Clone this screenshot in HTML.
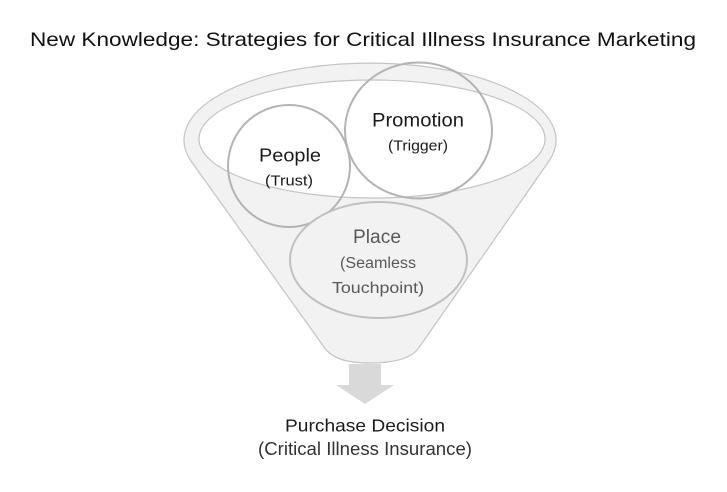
<!DOCTYPE html>
<html>
<head>
<meta charset="utf-8">
<style>
  html, body { margin: 0; padding: 0; background: #ffffff; }
  body { width: 727px; height: 492px; overflow: hidden; }
  svg { display: block; }
  text { font-family: "Liberation Sans", "DejaVu Sans", sans-serif; }
</style>
</head>
<body>
<svg width="727" height="492" viewBox="0 0 727 492" xmlns="http://www.w3.org/2000/svg">
  <rect x="0" y="0" width="727" height="492" fill="#ffffff"/>

  <!-- Title -->
  <text x="363" y="46" font-size="19.5" fill="#111111" text-anchor="middle" textLength="666" lengthAdjust="spacingAndGlyphs">New Knowledge: Strategies for Critical Illness Insurance Marketing</text>

  <!-- Funnel body (outer ellipse + cone union) -->
  <path d="M 191.4 161.6 A 186 77 0 1 1 548.6 161.6 L 418 349 C 410 359 392 363 370 363 C 348 363 332 359 324 347 Z"
        fill="#f2f2f2" stroke="#c4c4c4" stroke-width="1.2"/>

  <!-- Inner ellipse (funnel mouth) -->
  <ellipse cx="372" cy="139" rx="173" ry="59" fill="#ffffff" stroke="#c4c4c4" stroke-width="1.2"/>

  <!-- Promotion circle -->
  <ellipse cx="418.5" cy="130.5" rx="73.5" ry="68" fill="none" stroke="#b3b3b3" stroke-width="2"/>

  <!-- People circle -->
  <circle cx="289" cy="166" r="61" fill="none" stroke="#b3b3b3" stroke-width="2"/>

  <!-- Place ellipse -->
  <ellipse cx="378.5" cy="260" rx="88.5" ry="58" fill="#f2f2f2" stroke="#c0c0c0" stroke-width="2"/>

  <!-- Labels -->
  <text x="418" y="126.5" font-size="19" fill="#1a1a1a" text-anchor="middle" textLength="92" lengthAdjust="spacingAndGlyphs">Promotion</text>
  <text x="418" y="150.5" font-size="15" fill="#1a1a1a" text-anchor="middle" textLength="60" lengthAdjust="spacingAndGlyphs">(Trigger)</text>

  <text x="290" y="161.5" font-size="18" fill="#1a1a1a" text-anchor="middle" textLength="62" lengthAdjust="spacingAndGlyphs">People</text>
  <text x="289" y="185.5" font-size="15" fill="#1a1a1a" text-anchor="middle" textLength="48" lengthAdjust="spacingAndGlyphs">(Trust)</text>

  <text x="377" y="243" font-size="19" fill="#595959" text-anchor="middle" textLength="48" lengthAdjust="spacingAndGlyphs">Place</text>
  <text x="378" y="268" font-size="15.5" fill="#595959" text-anchor="middle" textLength="76" lengthAdjust="spacingAndGlyphs">(Seamless</text>
  <text x="378" y="293" font-size="15.5" fill="#595959" text-anchor="middle" textLength="92" lengthAdjust="spacingAndGlyphs">Touchpoint)</text>

  <!-- Down arrow -->
  <path d="M 349 364 L 381 364 L 381 385 L 394 385 L 365 404 L 336 385 L 349 385 Z" fill="#d9d9d9"/>

  <!-- Bottom labels -->
  <text x="365" y="431.5" font-size="17.5" fill="#1a1a1a" text-anchor="middle" textLength="160" lengthAdjust="spacingAndGlyphs">Purchase Decision</text>
  <text x="365" y="455" font-size="18" fill="#333333" text-anchor="middle" textLength="214" lengthAdjust="spacingAndGlyphs">(Critical Illness Insurance)</text>
</svg>
</body>
</html>
